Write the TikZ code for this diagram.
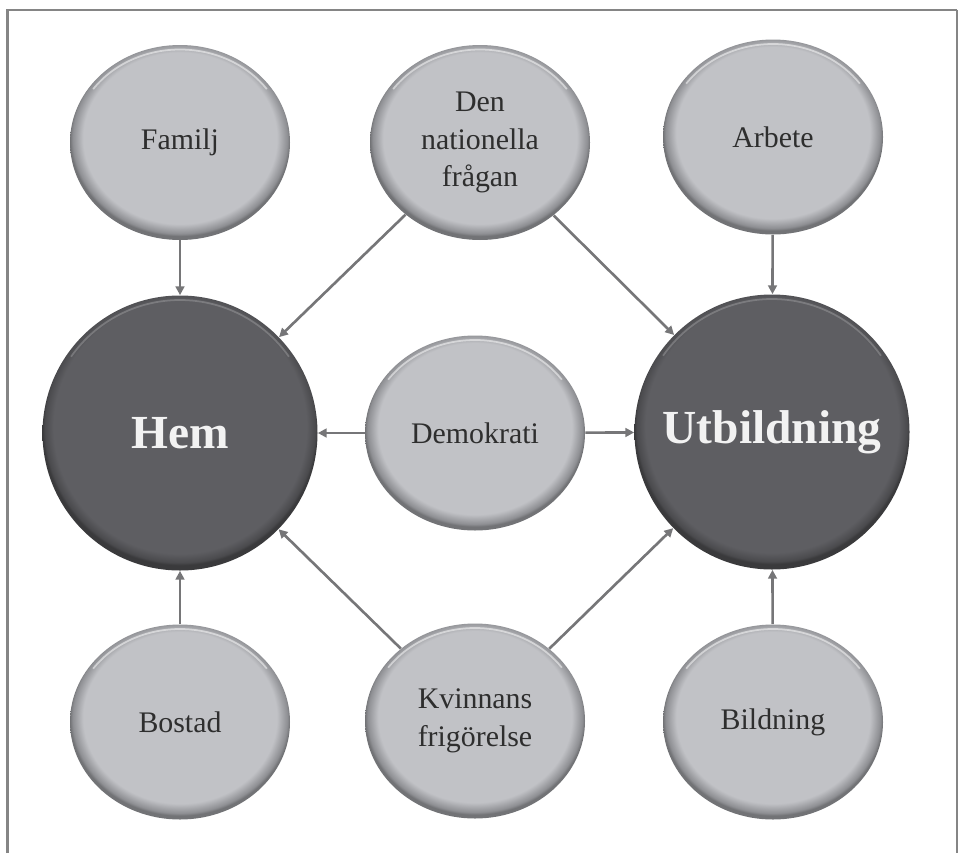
\documentclass[tikz,border=0pt]{standalone}
\usepackage{fontspec}
\setmainfont{Liberation Serif}
\usepackage{xcolor}
\usepackage{tikz}
\usetikzlibrary{arrows.meta,shapes.geometric}

\definecolor{softgray}{HTML}{C1C2C6}
\definecolor{softrim}{HTML}{8E8F93}
\definecolor{softedge}{HTML}{727376}
\definecolor{deepgray}{HTML}{5E5E62}
\definecolor{deeprim}{HTML}{4A4A4D}
\definecolor{deepedge}{HTML}{3A3A3C}
\definecolor{linkgray}{HTML}{767678}
\definecolor{framegray}{HTML}{858585}
\definecolor{inkgray}{HTML}{2E2E2E}

\pgfdeclareradialshading{softball}{\pgfpoint{0bp}{2bp}}{color(0bp)=(softgray); color(22bp)=(softgray); color(24.4bp)=(softrim); color(25bp)=(softedge); color(50bp)=(softedge)}
\pgfdeclareradialshading{deepball}{\pgfpoint{0bp}{2bp}}{color(0bp)=(deepgray); color(23bp)=(deepgray); color(24.6bp)=(deeprim); color(25bp)=(deepedge); color(50bp)=(deepedge)}

\begin{document}
\begin{tikzpicture}[
    smallball/.style={ellipse, minimum width=4.4cm, minimum height=3.9cm, inner sep=0pt,
        shade, shading=softball, text=inkgray, align=center,
        font=\fontsize{17}{21.5}\selectfont,
        path picture={\draw[white, opacity=.5, line width=1pt]
            (path picture bounding box.center) ++(145:2.12cm and 1.86cm)
            arc[start angle=145, end angle=35, x radius=2.12cm, y radius=1.86cm];}},
    bigball/.style={circle, minimum size=5.5cm, inner sep=0pt,
        shade, shading=deepball, text=white!95!black, align=center,
        font=\fontsize{27}{30}\selectfont\bfseries,
        path picture={\draw[white, opacity=.2, line width=1pt]
            (path picture bounding box.center) ++(145:2.66cm)
            arc[start angle=145, end angle=35, radius=2.66cm];}},
    link/.style={-{Triangle[length=5pt, width=5pt]}, draw=linkgray, line width=1.5pt}
]
    \useasboundingbox (0,0) rectangle (19.2,-17.06);

    % Frame
    \draw[framegray, line width=1.7pt] (0.15,-17.06) -- (0.15,-0.2) -- (19.14,-0.2);
    \draw[framegray, line width=0.9pt] (19.14,-0.2) -- (19.14,-17.06);

    % Nodes
    \node[smallball] (familj) at (3.6,-2.85) {Familj};
    \node[smallball] (nation) at (9.6,-2.85) {Den\\nationella\\frågan};
    \node[smallball] (arbete) at (15.46,-2.74) {Arbete};

    \node[bigball] (hem) at (3.6,-8.66) {Hem};
    \node[smallball] (demokrati) at (9.5,-8.66) {Demokrati};
    \node[bigball] (utbildning) at (15.44,-8.64) {Utbildning};

    \node[smallball] (bostad) at (3.6,-14.44) {Bostad};
    \node[smallball] (kvinna) at (9.5,-14.42) {Kvinnans\\frigörelse};
    \node[smallball] (bildning) at (15.46,-14.44) {Bildning};

    % Arrows
    \draw[link] (familj) -- (hem);
    \draw[link] (bostad) -- (hem);
    \draw[link] (arbete) -- (utbildning);
    \draw[link] (bildning) -- (utbildning);
    \draw[link] (demokrati) -- (hem);
    \draw[link] (demokrati) -- (utbildning);
    \draw[link] (nation) -- (hem);
    \draw[link] (nation) -- (utbildning);
    \draw[link] (kvinna) -- (hem);
    \draw[link] (kvinna) -- (utbildning);
\end{tikzpicture}
\end{document}
